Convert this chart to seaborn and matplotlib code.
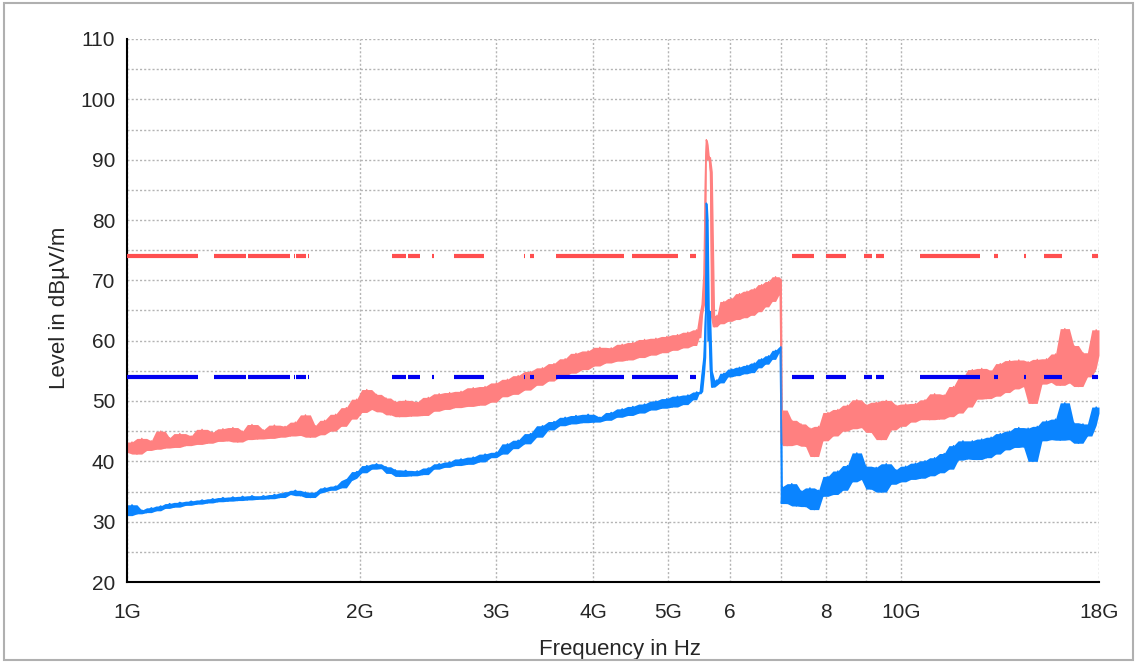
import numpy as np
import pandas as pd
import seaborn as sns
import matplotlib.pyplot as plt
from matplotlib.patches import Rectangle
from matplotlib.ticker import FixedLocator, MultipleLocator, NullLocator

# sweep frequencies in MHz
freq_mhz = [
    1000, 1015, 1030, 1045, 1060, 1075, 1090, 1105, 1120, 1135,
    1150, 1170, 1190, 1210, 1230, 1250, 1270, 1290, 1310, 1330,
    1350, 1370, 1390, 1410, 1430, 1450, 1475, 1500, 1525, 1550,
    1575, 1600, 1625, 1650, 1675, 1700, 1725, 1750, 1775, 1800,
    1830, 1860, 1890, 1920, 1950, 1980, 2010, 2040, 2070, 2100,
    2130, 2160, 2190, 2220, 2250, 2290, 2330, 2370, 2410, 2450,
    2490, 2530, 2570, 2610, 2650, 2700, 2750, 2800, 2850, 2900,
    2950, 3000, 3050, 3100, 3150, 3200, 3260, 3320, 3380, 3440,
    3500, 3560, 3620, 3680, 3740, 3800, 3870, 3940, 4010, 4080,
    4150, 4220, 4290, 4360, 4430, 4500, 4580, 4660, 4740, 4820,
    4900, 4980, 5060, 5140, 5220, 5300, 5380, 5440, 5480, 5510,
    5540, 5570, 5590, 5600, 5615, 5630, 5650, 5670, 5700, 5740,
    5780, 5830, 5900, 5970, 6040, 6110, 6180, 6250, 6320, 6390,
    6460, 6530, 6600, 6670, 6740, 6810, 6880, 6950, 6990, 7000,
    7020, 7120, 7220, 7320, 7420, 7520, 7620, 7720, 7820, 7920,
    8040, 8160, 8280, 8400, 8520, 8640, 8760, 8880, 9000, 9140,
    9280, 9420, 9560, 9700, 9840, 9980, 10130, 10280, 10430, 10580,
    10730, 10880, 11040, 11200, 11360, 11520, 11680, 11840, 12010, 12180,
    12350, 12520, 12700, 12880, 13060, 13240, 13420, 13610, 13800, 13990,
    14180, 14380, 14580, 14780, 14980, 15190, 15400, 15610, 15820, 16040,
    16260, 16480, 16700, 16930, 17160, 17390, 17620, 17850, 18000,
]

# peak detector trace, dBuV/m
peak_db = [
    41.5, 43.2, 41.2, 43.8, 41.8, 43.4, 42.0, 45.0, 42.2, 43.9,
    42.3, 44.6, 42.6, 44.2, 42.8, 45.3, 43.0, 44.8, 43.3, 45.4,
    43.4, 45.6, 43.2, 45.0, 43.6, 46.1, 43.7, 45.2, 43.8, 46.0,
    44.0, 45.8, 44.2, 46.5, 44.3, 47.7, 44.0, 45.9, 44.4, 46.8,
    45.0, 47.8, 45.8, 48.9, 47.0, 50.3, 48.1, 51.9, 48.6, 51.1,
    48.2, 50.5, 47.7, 49.9, 47.4, 50.1, 47.5, 49.8, 47.6, 50.6,
    48.3, 51.2, 48.6, 51.4, 48.9, 51.6, 49.1, 52.2, 49.3, 52.4,
    49.8, 53.0, 50.7, 53.6, 51.1, 54.2, 51.8, 54.9, 52.6, 55.5,
    53.3, 56.2, 54.0, 57.0, 54.6, 57.9, 55.2, 58.3, 55.8, 58.9,
    56.3, 58.8, 56.6, 59.4, 56.8, 59.7, 57.2, 60.2, 57.6, 60.4,
    58.0, 60.7, 58.4, 61.0, 58.8, 61.4, 59.2, 61.8, 60.5, 64.5,
    66.0, 71.0, 90.0, 93.3, 92.5, 90.0, 90.5, 88.0, 64.0, 62.3,
    64.2, 62.8, 66.5, 63.2, 67.0, 63.5, 67.8, 63.8, 68.2, 64.2,
    68.6, 64.8, 69.3, 65.6, 69.8, 66.5, 70.6, 67.6, 70.2, 43.0,
    48.5, 42.6, 46.8, 42.8, 46.2, 42.5, 45.5, 40.8, 45.8, 43.4,
    48.1, 44.2, 48.6, 45.0, 49.3, 45.4, 50.2, 45.6, 49.4, 44.8,
    49.8, 43.6, 50.1, 45.2, 49.3, 45.8, 49.5, 46.5, 49.6, 46.9,
    50.2, 46.9, 51.2, 47.0, 51.0, 47.4, 52.4, 48.0, 53.8, 49.0,
    55.2, 50.3, 55.4, 50.4, 55.0, 50.8, 56.2, 51.4, 56.7, 52.0,
    56.8, 52.4, 56.5, 49.6, 56.9, 52.8, 57.0, 53.1, 57.8, 52.6,
    62.0, 53.0, 59.2, 52.4, 58.0, 54.0, 55.4, 61.8, 57.6,
]

# average detector trace, dBuV/m
avg_db = [
    31.0, 32.8, 31.3, 31.9, 31.5, 32.3, 31.8, 32.6, 32.2, 33.0,
    32.4, 33.2, 32.7, 33.4, 32.9, 33.6, 33.1, 33.8, 33.3, 34.0,
    33.4, 34.1, 33.5, 34.2, 33.6, 34.3, 33.7, 34.3, 33.8, 34.5,
    34.0, 34.8, 34.5, 35.2, 34.3, 34.9, 34.0, 34.7, 34.9, 35.6,
    35.2, 35.9, 35.6, 36.8, 37.2, 38.3, 38.1, 39.3, 38.7, 39.6,
    38.8, 39.1, 38.0, 38.6, 37.5, 38.5, 37.6, 38.4, 37.8, 38.9,
    38.7, 39.6, 39.0, 39.9, 39.3, 40.4, 39.5, 40.7, 39.9, 41.2,
    40.6, 41.5, 41.2, 42.9, 42.1, 43.5, 42.9, 44.6, 44.0, 45.9,
    45.2, 46.6, 45.9, 47.3, 46.2, 47.6, 46.4, 47.8, 46.5, 47.3,
    46.8, 48.1, 47.3, 48.7, 47.6, 49.1, 48.0, 49.5, 48.5, 50.0,
    48.8, 50.4, 49.0, 50.8, 49.4, 51.0, 50.2, 51.5, 51.2, 51.6,
    54.6, 57.3, 65.0, 82.8, 80.0, 60.0, 65.0, 55.0, 52.3, 52.6,
    53.5, 53.0, 54.6, 54.0, 55.3, 54.2, 55.6, 54.5, 55.9, 54.7,
    56.3, 55.5, 57.0, 56.1, 57.5, 56.9, 58.4, 58.0, 59.0, 33.0,
    35.8, 33.0, 36.3, 32.6, 35.1, 32.5, 35.6, 32.0, 35.2, 34.2,
    37.5, 34.5, 38.4, 35.2, 39.3, 36.6, 41.4, 37.0, 39.2, 35.4,
    39.0, 34.9, 39.6, 36.2, 38.6, 36.6, 39.2, 37.0, 39.7, 37.2,
    40.1, 37.6, 40.6, 38.1, 41.3, 38.7, 42.6, 40.2, 43.4, 40.4,
    43.4, 40.3, 43.7, 40.6, 44.0, 41.2, 44.6, 41.9, 45.0, 42.3,
    45.6, 42.4, 45.5, 40.0, 45.8, 43.4, 46.7, 43.6, 47.0, 43.5,
    49.7, 43.6, 46.4, 43.0, 46.2, 44.2, 46.0, 49.0, 48.0,
]

# limit lines and the pieces of them that are drawn (GHz)
limit_peak = 74
limit_avg = 54
limit_start = [1.0, 1.295, 1.433, 1.644, 1.653, 1.713, 2.199, 2.307, 2.477, 2.645,
               3.256, 3.315, 3.581, 4.489, 5.335, 7.225, 7.991, 8.949, 9.275, 10.57,
               13.17, 14.41, 15.29, 17.63]
limit_end = [1.235, 1.424, 1.624, 1.648, 1.703, 1.718, 2.293, 2.390, 2.492, 2.892,
             3.266, 3.355, 4.384, 5.147, 5.432, 7.715, 8.484, 9.165, 9.499, 12.64,
             13.33, 14.49, 16.13, 17.95]

x_ticks = [1, 2, 3, 4, 5, 6, 7, 8, 9, 10, 18]
x_labels = ["1G", "2G", "3G", "4G", "5G", "6", "", "8", "", "10G", "18G"]

sns.set_style("white")
plt.rcParams["font.family"] = ["Liberation Sans", "DejaVu Sans"]

df = pd.DataFrame({"freq": np.array(freq_mhz) / 1000.0, "peak": peak_db, "avg": avg_db})

fig = plt.figure(figsize=(11.37, 6.62), dpi=100)
ax = fig.add_axes([127 / 1137, 1 - 582 / 662, 972 / 1137, 543 / 662])

# the analyser draws a dense noise band: fill between neighbouring extremes of the trace
for col, color in [("peak", "#ff8080"), ("avg", "#0a84ff")]:
    lo = df[col].rolling(3, center=True, min_periods=1).min()
    hi = df[col].rolling(3, center=True, min_periods=1).max()
    ax.fill_between(df["freq"], lo, hi, color=color, lw=0)
    sns.lineplot(data=df, x="freq", y=col, color=color, lw=1.0, estimator=None, ax=ax)

ax.hlines([limit_peak] * len(limit_start), limit_start, limit_end, colors="#ff4f4f", lw=3, zorder=3)
ax.hlines([limit_avg] * len(limit_start), limit_start, limit_end, colors="#0000f0", lw=3, zorder=3)

ax.set_xscale("log")
ax.set_xlim(1, 18)
ax.set_ylim(20, 110)
ax.xaxis.set_major_locator(FixedLocator(x_ticks))
ax.xaxis.set_minor_locator(NullLocator())
ax.set_xticklabels(x_labels)
ax.yaxis.set_major_locator(MultipleLocator(10))
ax.yaxis.set_minor_locator(MultipleLocator(5))

ax.tick_params(which="both", direction="inout", length=10, width=1.5, color="black")
ax.tick_params(axis="x", pad=10.4, labelsize=15)
ax.tick_params(axis="y", pad=3.5, labelsize=15)

ax.grid(which="both", linestyle=(0, (1.5, 1.5)), color="#b4b4b4", lw=1)
ax.set_axisbelow(True)
for s in ["top", "right"]:
    ax.spines[s].set_visible(False)
for s in ["left", "bottom"]:
    ax.spines[s].set_color("black")
    ax.spines[s].set_linewidth(1.5)

ax.set_xlabel("Frequency in Hz", fontsize=16)
ax.set_ylabel("Level in dBµV/m", fontsize=16)
ax.xaxis.set_label_coords(0.507, -0.105)
ax.yaxis.set_label_coords(-0.059, 0.5055)

fig.add_artist(Rectangle((4 / 1137, 2 / 662), 1129 / 1137, 657 / 662, transform=fig.transFigure,
                         fill=False, edgecolor="#b0b0b0", lw=1.5))

fig.savefig("out.png", dpi=100)
